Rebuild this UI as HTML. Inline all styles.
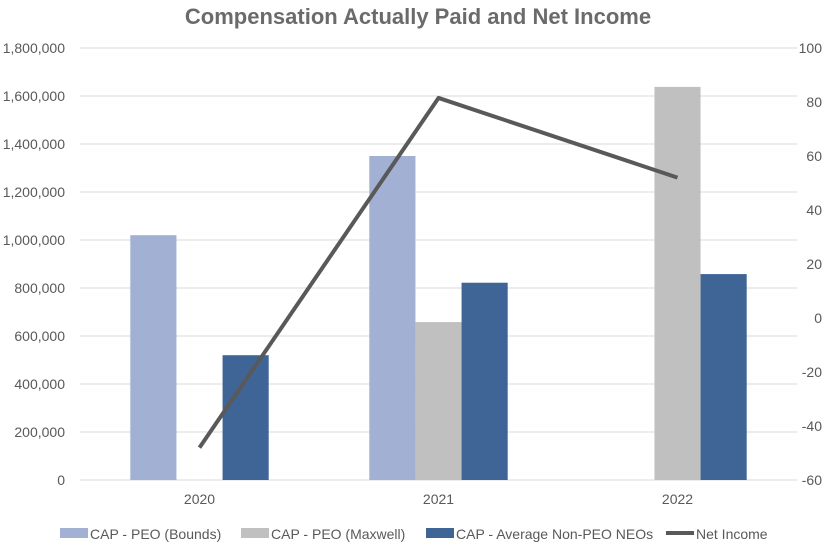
<!DOCTYPE html>
<html><head><meta charset="utf-8"><style>
body{margin:0;background:#fff;}
svg text{font-family:"Liberation Sans",sans-serif;fill:#595959;}
</style></head><body>
<svg id="chart" width="836" height="544" viewBox="0 0 836 544">
<text x="418" y="24" text-anchor="middle" font-size="22" font-weight="bold" style="fill:#6b6b6b">Compensation Actually Paid and Net Income</text>
<g id="grid"></g><g id="bars"></g><g id="line"></g><g id="axes"></g>
<g id="legend"></g>
</svg>
<script>
const categories=["2020","2021","2022"];
const bounds=[1020000,1350000,null];
const maxwell=[null,658000,1638000];
const nonPeo=[520000,822000,858000];
const netIncome=[-48,81.5,52];
const leftTicks=[0,200000,400000,600000,800000,1000000,1200000,1400000,1600000,1800000];
const rightTicks=[-60,-40,-20,0,20,40,60,80,100];
const L=80,R=797,T=48,B=480;
const NS="http://www.w3.org/2000/svg";
function yL(v){return B-(v/1800000)*(B-T);}
function yR(v){return B-((v+60)/160)*(B-T);}
const cw=(R-L)/categories.length;
function xC(i){return L+cw*(i+0.5);}
function mk(tag,attrs,parent,txt){const e=document.createElementNS(NS,tag);for(const k in attrs)e.setAttribute(k,attrs[k]);if(txt!=null)e.textContent=txt;document.getElementById(parent).appendChild(e);return e;}
leftTicks.forEach(t=>{
 const g=mk("line",{x1:L,x2:R,y1:yL(t),y2:yL(t),stroke:"#d9d9d9","stroke-width":1},"grid");
 
 
 const tx=mk("text",{x:65,y:yL(t)+5,"text-anchor":"end","font-size":14},"axes",t.toLocaleString("en-US"));
 
 
});
rightTicks.forEach(t=>{
 const tx=mk("text",{x:822,y:yR(t)+5,"text-anchor":"end","font-size":14},"axes",String(t));
 
 
});
const bw=cw*0.193;
const series=[[bounds,"#a2b1d3","bar-bounds"],[maxwell,"#bfc0bf","bar-maxwell"],[nonPeo,"#3f6496","bar-non-peo"]];
categories.forEach((c,i)=>{
 series.forEach((s,j)=>{
  const v=s[0][i]; if(v==null)return;
  const x=xC(i)+(j-1.5)*bw;
  const r=mk("rect",{x:x,y:yL(v),width:bw,height:B-yL(v),fill:s[1]},"bars");
  
  
 });
 const tx=mk("text",{x:xC(i),y:504,"text-anchor":"middle","font-size":14},"axes",c);
 
 
});
const pts=netIncome.map((v,i)=>xC(i)+","+yR(v)).join(" ");
const pl=mk("polyline",{points:pts,fill:"none",stroke:"#595959","stroke-width":4,"stroke-linejoin":"round"},"line");


const leg=[["CAP - PEO (Bounds)","#a2b1d3",60,"rect"],["CAP - PEO (Maxwell)","#bfc0bf",241,"rect"],["CAP - Average Non-PEO NEOs","#3f6496",426,"rect"],["Net Income","#595959",666,"line"]];
leg.forEach(l=>{
 let m;
 if(l[3]=="rect") m=mk("rect",{x:l[2],y:528,width:28,height:10,fill:l[1]},"legend");
 else m=mk("line",{x1:l[2],x2:l[2]+28,y1:533,y2:533,stroke:l[1],"stroke-width":4},"legend");
 
 
 const tx=mk("text",{x:l[2]+30,y:539,"font-size":14},"legend",l[0]);
 
 
});
</script>
</body></html>
